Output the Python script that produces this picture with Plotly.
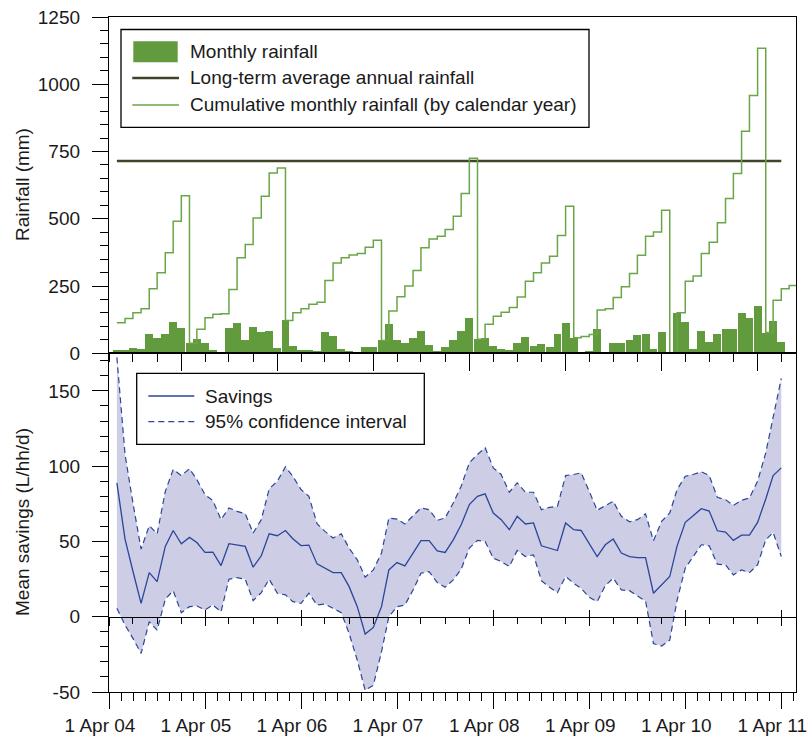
import pandas as pd
import plotly.graph_objects as go

# monthly rainfall (mm), Apr 2004 .. Mar 2011, plotted at the end of each month
monthly_rain = [
    12, 14, 20, 15, 72, 57, 72, 116, 94,
    37, 52, 40, 12, 2, 93, 113, 49, 97, 81, 84, 20,
    122, 28, 13, 14, 9, 80, 64, 17, 10, 4, 22, 24,
    48, 108, 50, 37, 57, 83, 31, 8, 24, 48, 83, 130,
    52, 56, 27, 15, 12, 38, 59, 28, 33, 23, 73, 111,
    58, 4, 8, 90, 5, 39, 39, 50, 67, 70, 15, 80,
    2, 150, 116, 17, 82, 42, 71, 89, 89, 151, 130, 176,
    77, 120, 42,
]

# cumulative monthly rainfall by calendar year (mm), Apr 2004 .. May 2011
cum_rain = [
    114, 129, 151, 166, 240, 299, 374, 491, 586,
    37, 89, 132, 145, 147, 237, 355, 404, 503, 584, 670, 689,
    122, 151, 166, 182, 190, 271, 336, 355, 365, 371, 394, 420,
    48, 157, 210, 250, 308, 392, 425, 435, 460, 509, 594, 725,
    52, 108, 138, 153, 170, 209, 268, 299, 336, 361, 438, 547,
    58, 62, 70, 161, 166, 207, 247, 297, 364, 435, 451, 532,
    2, 151, 268, 287, 371, 413, 485, 575, 668, 825, 958, 1134,
    77, 197, 240, 252, 271,
]

long_term_avg = 715

# mean savings (L/hh/d) with 95% confidence interval, Apr 2004 .. Mar 2011
savings = [
    88.9, 51.6, 30.2, 8.9, 29.3, 23.3, 46.7, 57.3, 48.5, 52.7, 49.3, 42.7,
    42.9, 34.0, 48.5, 47.6, 46.7, 32.9, 40.5, 55.1, 53.8, 57.3, 51.8, 47.3,
    47.6, 35.1, 32.5, 29.3, 29.3, 20.0, 6.7, -11.5, -7.1, 6.7, 31.1, 36.0,
    33.8, 42.3, 50.5, 50.5, 43.8, 42.7, 51.1, 61.1, 74.5, 80.0, 81.6, 68.9,
    64.5, 57.8, 66.7, 61.6, 62.3, 47.1, 45.6, 44.0, 62.3, 57.8, 57.3, 48.7,
    40.0, 47.8, 51.6, 42.3, 40.0, 39.3, 39.3, 15.6, 21.1, 26.7, 47.1, 62.7,
    67.1, 71.8, 70.2, 57.1, 56.2, 50.7, 54.2, 54.2, 62.7, 78.2, 93.8, 98.9,
]
ci_upper = [
    172.3, 107.8, 75.6, 44.9, 60.5, 55.1, 83.3, 97.8, 93.8, 98.3, 91.1, 81.1,
    77.1, 64.5, 72.3, 70.0, 68.5, 55.6, 64.5, 84.9, 90.0, 99.6, 93.3, 84.5,
    80.0, 61.8, 56.7, 52.3, 55.1, 45.6, 37.8, 26.3, 31.1, 42.3, 65.6, 64.9,
    61.6, 66.7, 72.3, 71.1, 64.0, 65.6, 75.6, 86.7, 102.3, 107.8, 112.3, 98.9,
    94.5, 82.7, 88.9, 82.7, 82.7, 71.1, 72.7, 73.3, 93.8, 94.5, 95.6, 83.3,
    70.7, 73.8, 76.7, 66.7, 63.1, 64.5, 68.3, 50.5, 63.3, 68.9, 84.5, 93.3,
    94.5, 96.3, 93.8, 79.3, 77.8, 74.0, 77.3, 78.9, 90.0, 108.9, 133.3, 158.3,
]
ci_lower = [
    5.6, -5.5, -14.4, -24.4, -3.3, -8.9, 11.6, 17.3, 2.7, 6.7, 7.1, 4.5,
    7.8, 3.3, 24.9, 26.0, 24.9, 10.7, 16.0, 24.9, 15.6, 14.5, 10.0, 8.9,
    15.6, 7.8, 8.5, 5.6, 2.7, -11.1, -28.9, -48.9, -45.5, -23.3, 0.0, 6.7,
    7.8, 17.8, 28.9, 30.0, 22.7, 19.6, 24.5, 31.6, 45.6, 50.7, 50.0, 38.9,
    36.7, 33.3, 44.0, 40.0, 41.1, 24.0, 19.6, 16.0, 26.7, 22.2, 18.9, 12.9,
    10.0, 20.7, 25.6, 17.8, 17.3, 13.8, 10.5, -17.8, -19.5, -15.5, 11.1, 32.3,
    40.0, 47.8, 47.1, 34.9, 34.5, 27.8, 31.1, 29.3, 34.5, 51.1, 56.0, 40.0,
]

year_labels = ["1 Apr 04", "1 Apr 05", "1 Apr 06", "1 Apr 07",
               "1 Apr 08", "1 Apr 09", "1 Apr 10", "1 Apr 11"]
rain_ticks = [0, 250, 500, 750, 1000, 1250]
saving_ticks = [-50, 0, 50, 100, 150]

period_end = pd.date_range("2004-05-01", periods=len(cum_rain), freq="MS")
n_bars = len(monthly_rain)

GREEN = "#629b3e"
CUM_GREEN = "#6aa548"
OLIVE = "#3e4528"
BLUE = "#2b4699"
FILL = "#cdcde6"
FONT = "Liberation Sans, Arial, sans-serif"

# page geometry
L, R, T, B = 109, 12, 17, 50
FW, FH = 808, 742
W, H = FW - L - R, FH - T - B


def px_x(x):
    return (x - L) / W


def px_y(y):
    return (FH - B - y) / H


split = px_y(353.3)
x_range = ["2004-04-01", "2011-05-27"]
apr_ticks = pd.date_range("2004-04-01", periods=8, freq="12MS")
jan_ticks = pd.date_range("2005-01-01", periods=7, freq="12MS")
quarter_ticks = pd.date_range("2004-04-01", periods=30, freq="3MS")
eighth_ticks = [pd.Timestamp("2004-04-01") + pd.Timedelta(days=365.25 / 8 * j) for j in range(58)]

fig = go.Figure()

# ---- top panel: rainfall
fig.add_trace(go.Bar(
    x=period_end[:n_bars], y=monthly_rain, name="Monthly rainfall",
    marker=dict(color=GREEN, line=dict(width=0)),
    width=30 * 86400000, showlegend=False, xaxis="x", yaxis="y",
))
fig.add_trace(go.Scatter(
    x=[period_end[0], period_end[n_bars - 1]], y=[long_term_avg, long_term_avg],
    mode="lines", name="Long-term average annual rainfall",
    line=dict(color=OLIVE, width=2.5), showlegend=False, xaxis="x", yaxis="y",
))
fig.add_trace(go.Scatter(
    x=period_end, y=cum_rain, mode="lines", line_shape="hv",
    name="Cumulative monthly rainfall (by calendar year)",
    line=dict(color=CUM_GREEN, width=1.5), showlegend=False, xaxis="x", yaxis="y",
))

# ---- bottom panel: savings
xs = period_end[:len(savings)]
fig.add_trace(go.Scatter(x=xs, y=ci_lower, mode="lines", line=dict(width=0),
                         showlegend=False, hoverinfo="skip", xaxis="x2", yaxis="y2"))
fig.add_trace(go.Scatter(x=xs, y=ci_upper, mode="lines", line=dict(width=0),
                         fill="tonexty", fillcolor=FILL, showlegend=False,
                         hoverinfo="skip", xaxis="x2", yaxis="y2"))
for name, vals in [("95% confidence interval", ci_upper), ("95% CI lower", ci_lower)]:
    fig.add_trace(go.Scatter(x=xs, y=vals, mode="lines", name=name,
                             line=dict(color=BLUE, width=1.2, dash="6px,4px"),
                             showlegend=False, xaxis="x2", yaxis="y2"))
fig.add_trace(go.Scatter(x=xs, y=savings, mode="lines", name="Savings",
                         line=dict(color=BLUE, width=1.3), showlegend=False,
                         xaxis="x2", yaxis="y2"))
# carriers for the zero-line axes
for ax in ("x3", "x4"):
    fig.add_trace(go.Scatter(x=[None], y=[None], xaxis=ax, yaxis="y2",
                             showlegend=False, hoverinfo="skip"))

tickfont = dict(family=FONT, size=19, color="#1a1a1a")
line_kw = dict(showline=True, linecolor="black", linewidth=1.3, showgrid=False,
               zeroline=False, tickcolor="black", tickwidth=1.3, automargin=False)

zero_pos = split * 50 / 225

fig.update_layout(
    width=FW, height=FH,
    margin=dict(l=L, r=R, t=T, b=B, autoexpand=False),
    paper_bgcolor="white", plot_bgcolor="white",
    font=dict(family=FONT, size=19, color="#1a1a1a"),
    bargap=0,
    xaxis=dict(domain=[0, 1], anchor="y", type="date", range=x_range,
               ticks="outside", tickmode="array", tickvals=jan_ticks, ticklen=17,
               showticklabels=False, mirror=True,
               minor=dict(tickmode="array", tickvals=quarter_ticks, ticks="outside",
                          ticklen=8, tickcolor="black", tickwidth=1.3),
               **line_kw),
    yaxis=dict(domain=[split, 1], anchor="x", range=[0, 1250],
               tickmode="array", tickvals=rain_ticks,
               ticktext=[str(v) for v in rain_ticks],
               ticks="outside", ticklen=16, tickfont=tickfont, mirror=True,
               ticklabelstandoff=8,
               minor=dict(dtick=50, ticks="outside", ticklen=8,
                          tickcolor="black", tickwidth=1.3),
               **line_kw),
    xaxis2=dict(domain=[0, 1], anchor="y2", type="date", range=x_range,
                ticks="outside", tickmode="array", tickvals=apr_ticks,
                ticktext=year_labels, ticklen=16, tickfont=tickfont, mirror=True,
                ticklabeloverflow="allow", ticklabelshift=-9,
                minor=dict(tickmode="array", tickvals=eighth_ticks, ticks="outside",
                           ticklen=8, tickcolor="black", tickwidth=1.3),
                **line_kw),
    yaxis2=dict(domain=[0, split], anchor="x2", range=[-50, 175],
                tickmode="array", tickvals=saving_ticks,
                ticktext=[str(v) for v in saving_ticks],
                ticks="outside", ticklen=16, tickfont=tickfont, mirror=True,
                ticklabelstandoff=8,
                minor=dict(dtick=10, ticks="outside", ticklen=8,
                           tickcolor="black", tickwidth=1.3),
                **line_kw),
    xaxis3=dict(overlaying="x2", anchor="free", position=zero_pos, type="date",
                range=x_range, ticks="outside", tickmode="array", tickvals=apr_ticks,
                ticklen=8, showticklabels=False,
                minor=dict(tickmode="array", tickvals=quarter_ticks, ticks="outside",
                           ticklen=6, tickcolor="black", tickwidth=1.3),
                **line_kw),
    xaxis4=dict(overlaying="x2", anchor="free", position=zero_pos, type="date",
                range=x_range, ticks="inside", tickmode="array", tickvals=apr_ticks,
                ticklen=7, showticklabels=False, showline=False, showgrid=False,
                zeroline=False, tickcolor="black", tickwidth=1.3, automargin=False),
)

# axis titles
fig.add_annotation(text="Rainfall (mm)", xref="paper", yref="paper",
                   x=px_x(22), y=px_y(185), textangle=-90, showarrow=False,
                   xanchor="center", yanchor="middle", font=dict(size=19))
fig.add_annotation(text="Mean savings (L/hh/d)", xref="paper", yref="paper",
                   x=px_x(22), y=px_y(522), textangle=-90, showarrow=False,
                   xanchor="center", yanchor="middle", font=dict(size=19))


# legends drawn as boxes with keys
def legend_box(x0, y0, x1, y1):
    fig.add_shape(type="rect", xref="paper", yref="paper",
                  x0=px_x(x0), x1=px_x(x1), y0=px_y(y1), y1=px_y(y0),
                  line=dict(color="black", width=1.3), fillcolor="white", layer="above")


def legend_line(x0, x1, y, color, width, dash="solid"):
    fig.add_shape(type="line", xref="paper", yref="paper",
                  x0=px_x(x0), x1=px_x(x1), y0=px_y(y), y1=px_y(y),
                  line=dict(color=color, width=width, dash=dash), layer="above")


def legend_text(x, y, text):
    fig.add_annotation(text=text, xref="paper", yref="paper", x=px_x(x), y=px_y(y),
                       xanchor="left", yanchor="middle", showarrow=False,
                       font=dict(size=19))


legend_box(121, 29.5, 589, 127.3)
fig.add_shape(type="rect", xref="paper", yref="paper",
              x0=px_x(133.3), x1=px_x(177.7), y0=px_y(62.3), y1=px_y(41.3),
              line=dict(width=0), fillcolor=GREEN, layer="above")
legend_line(132.3, 179, 78, OLIVE, 2.5)
legend_line(132.3, 179, 105, CUM_GREEN, 1.3)
legend_text(188, 52, "Monthly rainfall")
legend_text(188, 78, "Long-term average annual rainfall")
legend_text(188, 104, "Cumulative monthly rainfall (by calendar year)")

legend_box(136.7, 373.3, 424.3, 444.3)
legend_line(148.3, 194.3, 396, BLUE, 1.3)
legend_line(148.3, 194.3, 421.7, BLUE, 1.3, "6px,4px")
legend_text(203, 396, "Savings")
legend_text(203, 421.7, "95% confidence interval")

fig.write_html(
    "out.html",
    config={"displayModeBar": False},
    post_script="document.body.style.margin='0';document.body.style.padding='0';",
)
